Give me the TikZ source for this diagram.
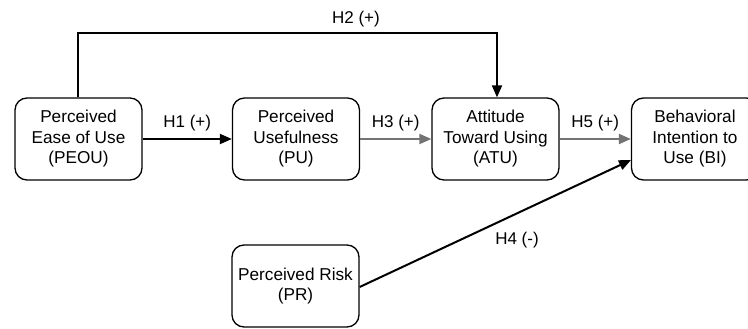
\documentclass[tikz,border=0pt]{standalone}
\usepackage{fontspec}
\setmainfont{Liberation Sans}
\usetikzlibrary{arrows.meta,positioning}

\begin{document}
\begin{tikzpicture}[x=1pt,y=-1pt,
  construct/.style={draw,line width=1.3pt,rounded corners=12pt,minimum width=127pt,minimum height=82pt,align=center,font=\fontsize{17.2}{20.5}\selectfont,inner sep=2pt},
  path/.style={line width=2pt,-{Triangle[length=12pt,width=10pt]}},
  weakpath/.style={path,draw=black!55},
  hyp/.style={text=black,font=\fontsize{17}{19}\selectfont}]
  \clip (0,0) rectangle (748,329);
  \node[construct] (PEOU) at (78.5,139) {Perceived\\Ease of Use\\(PEOU)};
  \node[construct] (PU) at (296,139) {Perceived\\Usefulness\\(PU)};
  \node[construct] (ATU) at (495.5,139) {Attitude\\Toward Using\\(ATU)};
  \node[construct] (BI) at (695,139) {Behavioral\\Intention to\\Use (BI)};
  \node[construct] (PR) at (295.5,286) {Perceived Risk\\(PR)};
  \coordinate (PEOUup) at (78,33);
  \coordinate (ATUup) at (497,33);
  \coordinate (BIin) at (631,160);
  \draw[path] (PEOU) -- (PU) node[hyp,midway,above=4pt] {H1 (+)};
  \draw[weakpath] (PU) -- (ATU) node[hyp,midway,above=4pt] {H3 (+)};
  \draw[weakpath] (ATU) -- (BI) node[hyp,midway,above=4pt] {H5 (+)};
  \draw[path] (PEOU.north -| PEOUup) -- (PEOUup) -- (ATUup) -- (ATU.north -| ATUup);
  \node[hyp] (H2) at (356,19) {H2 (+)};
  \draw[path] (PR.east |- 0,287) -- (BIin);
  \node[hyp] (H4) at (517,240) {H4 (-)};
\end{tikzpicture}
\end{document}
